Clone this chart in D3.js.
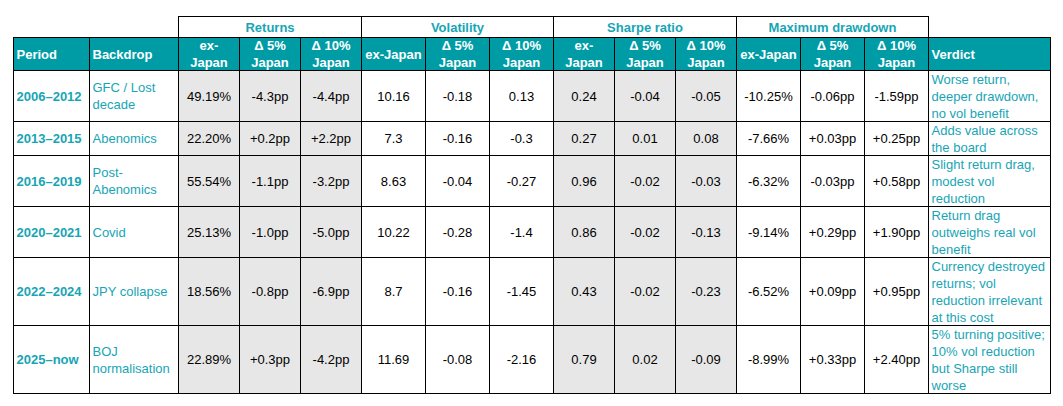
<!DOCTYPE html>
<html>
<head>
<meta charset="utf-8">
<script src="https://cdn.jsdelivr.net/npm/d3@7"></script>
<style>
  body { margin: 0; background: #fff; }
  text { font-family: "Liberation Sans", Arial, sans-serif; font-size: 13px; }
</style>
</head>
<body>
<div id="chart"></div>
<script>
// ---- data ----
const periods = ["2006–2012", "2013–2015", "2016–2019", "2020–2021", "2022–2024", "2025–now"];
const backdrops = ["GFC / Lost\ndecade", "Abenomics", "Post-\nAbenomics", "Covid", "JPY collapse", "BOJ\nnormalisation"];
const verdicts = [
    "Worse return,\ndeeper drawdown,\nno vol benefit",
    "Adds value across\nthe board",
    "Slight return drag,\nmodest vol\nreduction",
    "Return drag\noutweighs real vol\nbenefit",
    "Currency destroyed\nreturns; vol\nreduction irrelevant\nat this cost",
    "5% turning positive;\n10% vol reduction\nbut Sharpe still\nworse"
];

const retEx = [49.19, 22.20, 55.54, 25.13, 18.56, 22.89];
const ret5 = [-4.3, 0.2, -1.1, -1.0, -0.8, 0.3];
const ret10 = [-4.4, 2.2, -3.2, -5.0, -6.9, -4.2];

const volEx = [10.16, 7.3, 8.63, 10.22, 8.7, 11.69];
const vol5 = [-0.18, -0.16, -0.04, -0.28, -0.16, -0.08];
const vol10 = [0.13, -0.3, -0.27, -1.4, -1.45, -2.16];

const sharpeEx = [0.24, 0.27, 0.96, 0.86, 0.43, 0.79];
const sharpe5 = [-0.04, 0.01, -0.02, -0.02, -0.02, 0.02];
const sharpe10 = [-0.05, 0.08, -0.03, -0.13, -0.23, -0.09];

const ddEx = [-10.25, -7.66, -6.32, -9.14, -6.52, -8.99];
const dd5 = [-0.06, 0.03, -0.03, 0.29, 0.09, 0.33];
const dd10 = [-1.59, 0.25, 0.58, 1.90, 0.95, 2.40];

const groups = ["Returns", "Volatility", "Sharpe ratio", "Maximum drawdown"];
const headers = ["Period", "Backdrop",
    "ex-\nJapan", "Δ 5%\nJapan", "Δ 10%\nJapan",
    "ex-Japan", "Δ 5%\nJapan", "Δ 10%\nJapan",
    "ex-\nJapan", "Δ 5%\nJapan", "Δ 10%\nJapan",
    "ex-Japan", "Δ 5%\nJapan", "Δ 10%\nJapan",
    "Verdict"];

// ---- formatting ----
const loc = d3.formatLocale({decimal: ".", thousands: ",", grouping: [3], currency: ["", ""], minus: "-"});
const pct = v => loc.format(".2f")(v) + "%";
const pp1 = v => loc.format("+.1f")(v) + "pp";
const pp2 = v => loc.format("+.2f")(v) + "pp";
const plain = v => String(v);

// column specs: [values, formatter, kind]
const columns = [
    {vals: periods, fmt: d => d, kind: "period"},
    {vals: backdrops, fmt: d => d, kind: "left"},
    {vals: retEx, fmt: pct, kind: "num", shade: true},
    {vals: ret5, fmt: pp1, kind: "num", shade: true},
    {vals: ret10, fmt: pp1, kind: "num", shade: true},
    {vals: volEx, fmt: plain, kind: "num"},
    {vals: vol5, fmt: plain, kind: "num"},
    {vals: vol10, fmt: plain, kind: "num"},
    {vals: sharpeEx, fmt: plain, kind: "num", shade: true},
    {vals: sharpe5, fmt: plain, kind: "num", shade: true},
    {vals: sharpe10, fmt: plain, kind: "num", shade: true},
    {vals: ddEx, fmt: pct, kind: "num"},
    {vals: dd5, fmt: pp2, kind: "num"},
    {vals: dd10, fmt: pp2, kind: "num"},
    {vals: verdicts, fmt: d => d, kind: "left"}
];

// ---- layout ----
const W = 1063, H = 406;
const colWidths = [76, 89, 61, 61, 61, 64, 64, 64, 61, 61, 61, 64, 64, 64, 122];
const x0 = 13.5, lineH = 17, groupTop = 16.5, headTop = 37.5, headH = 33;
const teal = "#009ca6", tealText = "#17a5b5", shade = "#e7e7e7";

const colX = [x0];
colWidths.forEach((w, i) => colX.push(colX[i] + w));

const rowLines = periods.map((_, r) =>
    d3.max(columns, c => String(c.fmt(c.vals[r])).split("\n").length));
const rowY = [headTop + headH];
rowLines.forEach((n, i) => rowY.push(rowY[i] + n * lineH));

const svg = d3.select("#chart").append("svg")
    .attr("width", W).attr("height", H)
    .attr("viewBox", `0 0 ${W} ${H}`);

function multiline(g, str, x, yMid, anchor) {
    const lines = String(str).split("\n");
    const t = g.append("text")
        .attr("text-anchor", anchor);
    lines.forEach((ln, i) => {
        t.append("tspan")
            .attr("x", x)
            .attr("y", yMid + (i - (lines.length - 1) / 2) * lineH)
            .attr("dy", "0.36em")
            .text(ln);
    });
    return t;
}

// group header row
const groupG = svg.append("g");
groups.forEach((name, i) => {
    const xa = colX[2 + i * 3], xb = colX[5 + i * 3];
    groupG.append("rect")
        .attr("x", xa).attr("y", groupTop)
        .attr("width", xb - xa).attr("height", headTop - groupTop)
        .attr("fill", "#fff").attr("stroke", "#000").attr("stroke-width", 1);
    groupG.append("text")
        .attr("x", (xa + xb) / 2).attr("y", (groupTop + headTop) / 2)
        .attr("dy", "0.36em")
        .attr("text-anchor", "middle")
        .attr("font-weight", "bold")
        .attr("fill", tealText)
        .text(name);
});

// header row
const headG = svg.append("g");
headers.forEach((h, i) => {
    headG.append("rect")
        .attr("x", colX[i]).attr("y", headTop)
        .attr("width", colWidths[i]).attr("height", headH)
        .attr("fill", teal).attr("stroke", "#000").attr("stroke-width", 1);
    const left = columns[i].kind !== "num";
    multiline(headG, h, left ? colX[i] + 3 : colX[i] + colWidths[i] / 2,
        headTop + headH / 2, left ? "start" : "middle")
        .attr("fill", "#fff").attr("font-weight", "bold");
});

// body cells
const bodyG = svg.append("g");
periods.forEach((_, r) => {
    const y0 = rowY[r], y1 = rowY[r + 1], ym = (y0 + y1) / 2;
    columns.forEach((c, i) => {
        bodyG.append("rect")
            .attr("x", colX[i]).attr("y", y0)
            .attr("width", colWidths[i]).attr("height", y1 - y0)
            .attr("fill", c.shade ? shade : "#fff")
            .attr("stroke", "#000").attr("stroke-width", 1);
        const label = c.fmt(c.vals[r]);
        if (c.kind === "num") {
            multiline(bodyG, label, colX[i] + colWidths[i] / 2, ym, "middle")
                .attr("fill", "#000");
        } else {
            const t = multiline(bodyG, label, colX[i] + 3, ym, "start")
                .attr("fill", tealText);
            if (c.kind === "period") t.attr("font-weight", "bold");
        }
    });
});
</script>
</body>
</html>
